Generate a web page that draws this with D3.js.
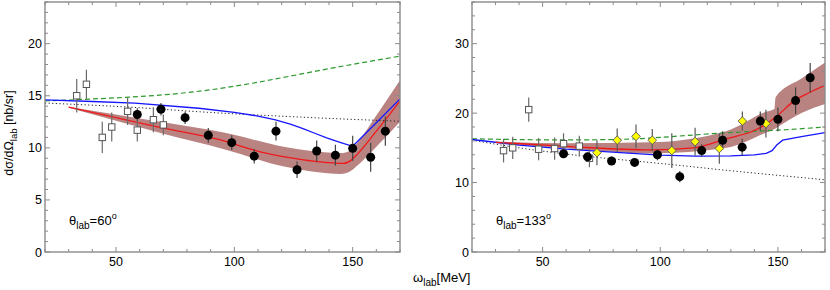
<!DOCTYPE html>
<html><head><meta charset="utf-8">
<script src="https://cdn.jsdelivr.net/npm/d3@7"></script>
<style>body{margin:0;background:#fff}svg{display:block}text{font-family:"Liberation Sans",Arial,sans-serif;fill:#000}</style>
</head><body><svg id="c" width="830" height="290"></svg>
<script>
// ---------- Left panel (theta = 60) ----------
const leftSqX = [33.4, 37.5, 44.2, 48.2, 54.9, 59.0, 65.8, 70.0];
const leftSqY = [15.0, 16.1, 11.0, 12.0, 13.5, 11.7, 12.7, 12.2];
const leftSqErr = [1.6, 1.4, 1.5, 1.4, 1.3, 1.1, 1.2, 1.0];
const leftCircX = [59.0, 69.0, 79.2, 89.0, 98.9, 108.4, 117.6, 126.5, 134.8, 142.7, 150.0, 157.6, 163.8];
const leftCircY = [13.2, 13.7, 12.9, 11.2, 10.5, 9.2, 11.6, 7.9, 9.7, 9.3, 9.95, 9.1, 11.6];
const leftCircErr = [0.6, 0.6, 0.6, 0.7, 0.7, 0.7, 0.9, 0.8, 1.0, 1.0, 1.2, 1.4, 1.4];
const leftBlueX = [20, 40, 58, 85, 100, 110, 117, 124, 129, 134, 139, 145, 150, 160, 170];
const leftBlueY = [14.6, 14.45, 14.3, 13.8, 13.4, 13.05, 12.7, 12.25, 11.85, 11.4, 10.95, 10.5, 10.15, 12.4, 14.7];
const leftRedX = [30, 50, 70, 96, 108, 122, 136, 146, 149, 152, 160, 170];
const leftRedY = [13.9, 12.9, 11.9, 10.65, 9.8, 9.1, 8.65, 8.5, 8.75, 9.4, 11.6, 14.5];
const leftBandX = [30, 50, 70, 96, 122, 145, 149, 152, 160, 170];
const leftBandLo = [13.85, 12.6, 11.35, 9.85, 8.15, 7.5, 7.75, 8.3, 10.1, 12.5];
const leftBandHi = [13.95, 13.2, 12.45, 11.45, 10.05, 9.5, 9.75, 10.5, 13.1, 16.5];
const leftGreenX = [20, 50, 80, 110, 140, 170];
const leftGreenY = [14.5, 14.8, 15.3, 16.3, 17.6, 18.8];
const leftDotX = [20, 60, 86, 128, 170];
const leftDotY = [14.3, 13.85, 13.45, 12.95, 12.55];
const leftYTicks = [0, 5, 10, 15, 20];

// ---------- Right panel (theta = 133) ----------
const rightSqX = [33.4, 37.3, 44.1, 48.3, 55.1, 58.9, 65.6, 69.9];
const rightSqY = [14.6, 15.0, 20.5, 14.8, 14.9, 15.6, 15.25, 13.5];
const rightSqErr = [1.7, 1.6, 1.75, 1.6, 1.6, 1.5, 1.5, 1.3];
const rightCircX = [58.9, 69.1, 79.3, 89.1, 98.8, 108.3, 117.6, 126.5, 134.8, 142.5, 150.0, 157.5, 163.7];
const rightCircY = [14.15, 13.7, 13.1, 12.9, 14.0, 10.85, 14.6, 16.1, 15.1, 18.85, 19.1, 21.8, 25.1];
const rightCircErr = [0.5, 0.6, 0.6, 0.6, 0.8, 0.8, 0.9, 1.3, 1.2, 1.4, 1.7, 1.9, 2.1];
const rightDiaX = [73.1, 81.7, 89.7, 96.6, 104.9, 114.8, 125.1, 134.9, 144.9];
const rightDiaY = [14.3, 16.1, 16.65, 16.1, 14.6, 15.9, 14.9, 18.85, 18.5];
const rightDiaErr = [1.8, 1.7, 1.7, 1.6, 2.5, 2.0, 2.2, 1.4, 2.0];
const rightBlueX = [20, 40, 60, 83, 100, 115, 130, 140, 145, 147.5, 149.5, 152, 160, 170];
const rightBlueY = [16.2, 15.4, 14.8, 14.3, 13.95, 13.8, 13.85, 14.0, 14.2, 14.6, 15.4, 16.1, 16.6, 17.2];
const rightRedX = [30, 60, 96, 114, 128, 140, 145, 150, 157, 163, 170];
const rightRedY = [15.8, 15.2, 14.7, 15.0, 16.3, 17.5, 18.4, 19.7, 21.8, 22.9, 24.0];
const rightBandX = [30, 60, 96, 128, 145, 148.5, 149, 160, 170];
const rightBandLo = [15.7, 14.95, 14.2, 15.0, 17.2, 17.7, 17.8, 20.0, 21.3];
const rightBandHi = [15.9, 15.65, 15.8, 17.4, 20.2, 20.6, 22.3, 25.0, 27.3];
const rightGreenX = [20, 50, 80, 100, 125, 150, 170];
const rightGreenY = [16.3, 16.15, 16.2, 16.5, 17.1, 17.55, 18.0];
const rightDotX = [20, 40, 60, 83, 100, 130, 170];
const rightDotY = [16.1, 15.0, 14.1, 13.3, 12.75, 11.7, 10.4];
const rightYTicks = [0, 10, 20, 30];

const xTicks = [50, 100, 150];

const svg = d3.select("#c");
const AX = "#8a8a8a";

function panel(o) {
  const x = d3.scaleLinear().domain([20, 170]).range(o.xr);
  const y = d3.scaleLinear().domain([0, o.ymax]).range([252, 2]);
  const g = svg.append("g");
  const clipId = "clip" + o.id;
  svg.append("clipPath").attr("id", clipId).append("rect")
    .attr("x", o.xr[0]).attr("y", 2).attr("width", o.xr[1] - o.xr[0]).attr("height", 250);
  const pg = g.append("g").attr("clip-path", `url(#${clipId})`);

  const band = o.bandX.map((v, i) => [v, o.bandLo[i], o.bandHi[i]]);
  pg.append("path").datum(band)
    .attr("d", d3.area().x(d => x(d[0])).y0(d => y(d[1])).y1(d => y(d[2])).curve(d3.curveMonotoneX))
    .attr("fill", "#b98382").attr("stroke", "none");

  const line = d3.line().x(d => x(d[0])).y(d => y(d[1])).curve(d3.curveMonotoneX);
  const zip = (a, b) => a.map((v, i) => [v, b[i]]);
  pg.append("path").datum(zip(o.dotX, o.dotY)).attr("d", line)
    .attr("fill", "none").attr("stroke", "#222").attr("stroke-width", 1).attr("stroke-dasharray", "1.2,2.4");
  pg.append("path").datum(zip(o.greenX, o.greenY)).attr("d", d3.line().x(d => x(d[0])).y(d => y(d[1])).curve(d3.curveNatural))
    .attr("fill", "none").attr("stroke", "#2e9a2e").attr("stroke-width", 1.2).attr("stroke-dasharray", "5,3");
  pg.append("path").datum(zip(o.blueX, o.blueY)).attr("d", d3.line().x(d => x(d[0])).y(d => y(d[1])).curve(d3.curveLinear))
    .attr("fill", "none").attr("stroke", "#1515ff").attr("stroke-width", 1.3);
  pg.append("path").datum(zip(o.redX, o.redY)).attr("d", line)
    .attr("fill", "none").attr("stroke", "#f01818").attr("stroke-width", 1.3);

  function errs(X, Y, E, col) {
    pg.append("g").selectAll("line").data(X).join("line")
      .attr("x1", d => x(d)).attr("x2", d => x(d))
      .attr("y1", (d, i) => y(Y[i] - E[i])).attr("y2", (d, i) => y(Y[i] + E[i]))
      .attr("stroke", col).attr("stroke-width", 1.2);
  }
  errs(o.sqX, o.sqY, o.sqErr, "#6a6a6a");
  if (o.diaX) errs(o.diaX, o.diaY, o.diaErr, "#5a5a5a");
  errs(o.circX, o.circY, o.circErr, "#444");

  pg.append("g").selectAll("rect").data(o.sqX).join("rect")
    .attr("x", d => x(d) - 3.2).attr("y", (d, i) => y(o.sqY[i]) - 3.2)
    .attr("width", 6.4).attr("height", 6.4)
    .attr("fill", "#fff").attr("stroke", "#555").attr("stroke-width", 1);
  if (o.diaX) {
    pg.append("g").selectAll("path").data(o.diaX).join("path")
      .attr("transform", (d, i) => `translate(${x(d)},${y(o.diaY[i])})`)
      .attr("d", "M0,-4.3L4.3,0L0,4.3L-4.3,0Z")
      .attr("fill", "#ffff00").attr("stroke", "#555").attr("stroke-width", 0.9);
  }
  pg.append("g").selectAll("circle").data(o.circX).join("circle")
    .attr("cx", d => x(d)).attr("cy", (d, i) => y(o.circY[i])).attr("r", 4.5)
    .attr("fill", "#000");

  g.append("rect").attr("x", o.xr[0]).attr("y", 2).attr("width", o.xr[1] - o.xr[0]).attr("height", 250)
    .attr("fill", "none").attr("stroke", AX).attr("stroke-width", 1.4);

  const tg = g.append("g").attr("stroke", AX).attr("stroke-width", 1);
  const xMinor = d3.range(20, 171, 10);
  xMinor.forEach(v => {
    const L = xTicks.includes(v) ? 5 : 3;
    tg.append("line").attr("x1", x(v)).attr("x2", x(v)).attr("y1", 252).attr("y2", 252 - L);
    tg.append("line").attr("x1", x(v)).attr("x2", x(v)).attr("y1", 2).attr("y2", 2 + L);
  });
  const yMinor = d3.range(0, o.ymax + 0.01, o.ystep);
  yMinor.forEach(v => {
    const L = o.yTicks.includes(v) ? 5 : 3;
    tg.append("line").attr("x1", o.xr[0]).attr("x2", o.xr[0] + L).attr("y1", y(v)).attr("y2", y(v));
    tg.append("line").attr("x1", o.xr[1]).attr("x2", o.xr[1] - L).attr("y1", y(v)).attr("y2", y(v));
  });
  g.append("g").selectAll("text").data(xTicks).join("text")
    .attr("x", d => x(d)).attr("y", 265.5).attr("text-anchor", "middle")
    .attr("font-size", 12.5).text(d => d);
  g.append("g").selectAll("text").data(o.yTicks).join("text")
    .attr("x", o.xr[0] - 3).attr("y", d => y(d) + 4.5).attr("text-anchor", "end")
    .attr("font-size", 12.5).text(d => d);

  const t = g.append("text").attr("x", o.xr[0] + 24).attr("y", 225).attr("font-size", 13);
  t.append("tspan").text("θ");
  t.append("tspan").attr("font-size", 10).attr("dy", 4).text("lab");
  t.append("tspan").attr("dy", -4).text("=" + o.theta);
  t.append("tspan").attr("font-size", 9).attr("dy", -6).text("o");
}

panel({id: "L", xr: [45, 400], ymax: 24, ystep: 1, yTicks: leftYTicks, theta: "60",
  sqX: leftSqX, sqY: leftSqY, sqErr: leftSqErr,
  circX: leftCircX, circY: leftCircY, circErr: leftCircErr,
  blueX: leftBlueX, blueY: leftBlueY, redX: leftRedX, redY: leftRedY,
  bandX: leftBandX, bandLo: leftBandLo, bandHi: leftBandHi,
  greenX: leftGreenX, greenY: leftGreenY, dotX: leftDotX, dotY: leftDotY});

panel({id: "R", xr: [472, 825], ymax: 36, ystep: 2, yTicks: rightYTicks, theta: "133",
  sqX: rightSqX, sqY: rightSqY, sqErr: rightSqErr,
  circX: rightCircX, circY: rightCircY, circErr: rightCircErr,
  diaX: rightDiaX, diaY: rightDiaY, diaErr: rightDiaErr,
  blueX: rightBlueX, blueY: rightBlueY, redX: rightRedX, redY: rightRedY,
  bandX: rightBandX, bandLo: rightBandLo, bandHi: rightBandHi,
  greenX: rightGreenX, greenY: rightGreenY, dotX: rightDotX, dotY: rightDotY});

const xt = svg.append("text").attr("x", 413).attr("y", 282).attr("font-size", 13);
xt.append("tspan").text("ω");
xt.append("tspan").attr("font-size", 10).attr("dy", 4).text("lab");
xt.append("tspan").attr("dy", -4).text("[MeV]");

const yt = svg.append("text").attr("transform", "translate(13,133) rotate(-90)")
  .attr("text-anchor", "middle").attr("font-size", 12.5);
yt.append("tspan").text("dσ/dΩ");
yt.append("tspan").attr("font-size", 9.5).attr("dy", 4).text("lab");
yt.append("tspan").attr("dy", -4).text(" [nb/sr]");
</script></body></html>
